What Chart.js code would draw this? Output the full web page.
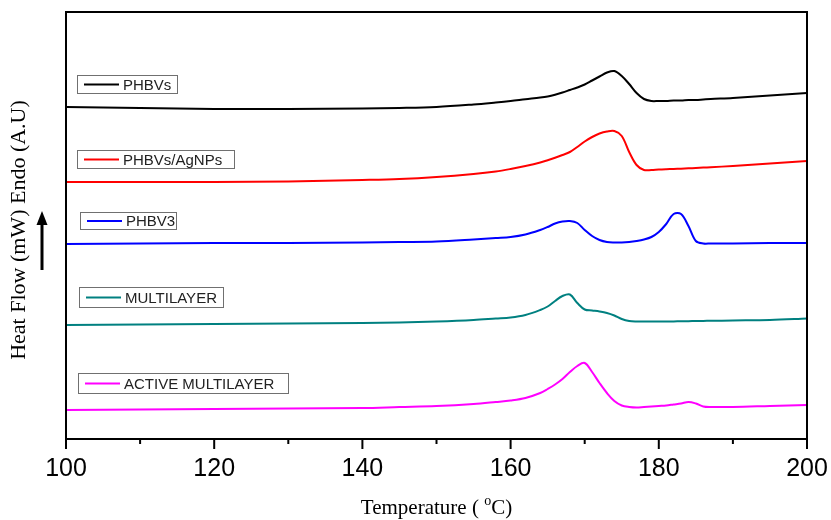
<!DOCTYPE html>
<html>
<head>
<meta charset="utf-8">
<script src="https://cdn.jsdelivr.net/npm/chart.js@4"></script>
<style>
  body { margin: 0; background: #fff; }
  #wrap { width: 831px; height: 520px; position: relative; }
</style>
</head>
<body>
<div id="wrap"><canvas id="myChart"></canvas></div>
<script>
// temperature grid (°C)
const temps = [100, 110, 120, 130, 140, 145, 150, 155, 158, 160, 162, 164, 165, 166, 167, 168, 169, 170, 171, 172, 173, 174, 175, 176, 177, 178, 179, 180, 181, 182, 183, 184, 185, 186, 187, 190, 195, 200]

// heat flow, arbitrary units (curves are offset)
const phbvs = [33.2, 33.1, 33.0, 33.0, 33.05, 33.1, 33.2, 33.45, 33.65, 33.8, 33.98, 34.15, 34.26, 34.43, 34.65, 34.9, 35.15, 35.45, 35.85, 36.25, 36.65, 36.8, 36.3, 35.5, 34.6, 34.0, 33.8, 33.8, 33.8, 33.85, 33.85, 33.9, 33.9, 33.95, 34.0, 34.1, 34.35, 34.6]
const phbvsAg = [25.7, 25.7, 25.7, 25.75, 25.9, 26.0, 26.2, 26.5, 26.75, 27.0, 27.3, 27.65, 27.88, 28.13, 28.4, 28.7, 29.2, 29.75, 30.2, 30.55, 30.75, 30.8, 30.3, 28.7, 27.4, 26.9, 26.9, 26.95, 26.98, 27.0, 27.03, 27.07, 27.1, 27.14, 27.18, 27.3, 27.55, 27.8]
const phbv3 = [19.5, 19.55, 19.6, 19.6, 19.65, 19.7, 19.75, 19.95, 20.1, 20.2, 20.45, 20.9, 21.2, 21.55, 21.75, 21.8, 21.6, 20.9, 20.3, 19.9, 19.7, 19.65, 19.65, 19.7, 19.8, 19.95, 20.2, 20.7, 21.5, 22.5, 22.5, 21.3, 19.8, 19.55, 19.55, 19.55, 19.6, 19.6]
const multilayer = [11.4, 11.45, 11.5, 11.55, 11.6, 11.65, 11.75, 11.9, 12.05, 12.15, 12.4, 12.9, 13.25, 13.8, 14.3, 14.45, 13.6, 12.95, 12.85, 12.75, 12.6, 12.35, 12.0, 11.8, 11.75, 11.75, 11.75, 11.75, 11.75, 11.76, 11.77, 11.78, 11.8, 11.81, 11.82, 11.85, 11.9, 12.05]
const activeMultilayer = [2.9, 2.95, 3.0, 3.05, 3.1, 3.2, 3.3, 3.5, 3.7, 3.85, 4.1, 4.6, 5.0, 5.45, 6.0, 6.7, 7.3, 7.6, 6.7, 5.6, 4.6, 3.8, 3.35, 3.2, 3.15, 3.2, 3.25, 3.3, 3.35, 3.45, 3.55, 3.7, 3.55, 3.25, 3.2, 3.2, 3.3, 3.4]

const seriesNames = ['PHBVs', 'PHBVs/AgNPs', 'PHBV3', 'MULTILAYER', 'ACTIVE MULTILAYER']
const seriesData = [phbvs, phbvsAg, phbv3, multilayer, activeMultilayer]
const colores = ['#000000', '#ff0000', '#0000ff', '#008080', '#ff00ff']

const xTicks = [100, 120, 140, 160, 180, 200]

// legend boxes in the plot
const cajas = [
  { x: 77, y: 75, w: 100, h: 18 },
  { x: 77, y: 150, w: 157, h: 18 },
  { x: 80, y: 212, w: 96, h: 17 },
  { x: 79, y: 287, w: 144, h: 20 },
  { x: 78, y: 373, w: 210, h: 20 }
]

const marco = {
  id: 'marco',
  afterDraw(chart) {
    const ctx = chart.ctx
    const a = chart.chartArea
    const xs = chart.scales.x
    ctx.save()
    // frame
    ctx.strokeStyle = '#000'
    ctx.lineWidth = 2
    ctx.strokeRect(a.left, a.top, a.right - a.left, a.bottom - a.top)
    // ticks
    for (let t = 100; t <= 200; t += 10) {
      const px = xs.getPixelForValue(t)
      const len = t % 20 === 0 ? 10 : 5
      ctx.beginPath()
      ctx.moveTo(px, a.bottom)
      ctx.lineTo(px, a.bottom + len)
      ctx.stroke()
    }
    // legend boxes
    ctx.font = '15px "Liberation Sans", Arial, sans-serif'
    ctx.textBaseline = 'middle'
    cajas.forEach((c, i) => {
      ctx.strokeStyle = '#707070'
      ctx.lineWidth = 1
      ctx.strokeRect(c.x + 0.5, c.y + 0.5, c.w, c.h)
      const cy = c.y + c.h / 2 + 0.5
      ctx.strokeStyle = colores[i]
      ctx.lineWidth = 2
      ctx.beginPath()
      ctx.moveTo(c.x + 7, cy)
      ctx.lineTo(c.x + 42, cy)
      ctx.stroke()
      ctx.fillStyle = '#222'
      ctx.fillText(seriesNames[i], c.x + 46, cy + 1)
    })
    // x title with superscript
    ctx.fillStyle = '#000'
    ctx.textBaseline = 'alphabetic'
    const serif = '21px "Liberation Serif", "Times New Roman", serif'
    const supFont = '14px "Liberation Serif", "Times New Roman", serif'
    ctx.font = serif
    const p1 = 'Temperature ( '
    const p2 = 'C)'
    const w1 = ctx.measureText(p1).width
    const w3 = ctx.measureText(p2).width
    ctx.font = supFont
    const w2 = ctx.measureText('o').width
    let sx = (a.left + a.right) / 2 - (w1 + w2 + w3) / 2
    const by = 514
    ctx.font = serif
    ctx.fillText(p1, sx, by)
    ctx.font = supFont
    ctx.fillText('o', sx + w1, by - 9)
    ctx.font = serif
    ctx.fillText(p2, sx + w1 + w2, by)
    // y title
    ctx.save()
    ctx.translate(19, 230)
    ctx.rotate(-Math.PI / 2)
    ctx.textAlign = 'center'
    ctx.textBaseline = 'middle'
    ctx.font = '22px "Liberation Serif", "Times New Roman", serif'
    ctx.fillText('Heat Flow (mW) Endo (A.U)', 0, 0)
    ctx.restore()
    // arrow
    ctx.strokeStyle = '#000'
    ctx.lineWidth = 3
    ctx.beginPath()
    ctx.moveTo(42, 270)
    ctx.lineTo(42, 222)
    ctx.stroke()
    ctx.fillStyle = '#000'
    ctx.beginPath()
    ctx.moveTo(42, 211)
    ctx.lineTo(36.5, 225)
    ctx.lineTo(47.5, 225)
    ctx.closePath()
    ctx.fill()
    ctx.restore()
  }
}

const datasets = seriesData.map((serie, i) => ({
  label: seriesNames[i],
  data: temps.map((t, j) => ({ x: t, y: serie[j] })),
  borderColor: colores[i],
  borderWidth: 2,
  pointRadius: 0,
  fill: false,
  tension: 0.35
}))

const ctx = document.getElementById('myChart').getContext('2d')
new Chart(ctx, {
  type: 'line',
  data: { datasets: datasets },
  options: {
    responsive: true,
    maintainAspectRatio: false,
    animation: false,
    layout: { padding: { left: 66, right: 24, top: 12, bottom: 0 } },
    plugins: {
      legend: { display: false },
      tooltip: { enabled: false }
    },
    scales: {
      x: {
        type: 'linear',
        min: 100,
        max: 200,
        afterFit: (s) => { s.height = 81; s.paddingRight = 0; s.paddingLeft = 0 },
        afterBuildTicks: (s) => { s.ticks = xTicks.map(v => ({ value: v })) },
        border: { display: false },
        grid: { display: true, drawOnChartArea: false, drawTicks: true, tickLength: 10, color: 'rgba(0,0,0,0)' },
        ticks: {
          color: '#000',
          padding: 5,
          maxRotation: 0,
          font: { family: '"Liberation Sans", Arial, sans-serif', size: 25 }
        }
      },
      y: {
        min: 0,
        max: 42.7,
        afterFit: (s) => { s.width = 0 },
        border: { display: false },
        grid: { display: false },
        ticks: { display: false }
      }
    }
  },
  plugins: [marco]
})
</script>
</body>
</html>
